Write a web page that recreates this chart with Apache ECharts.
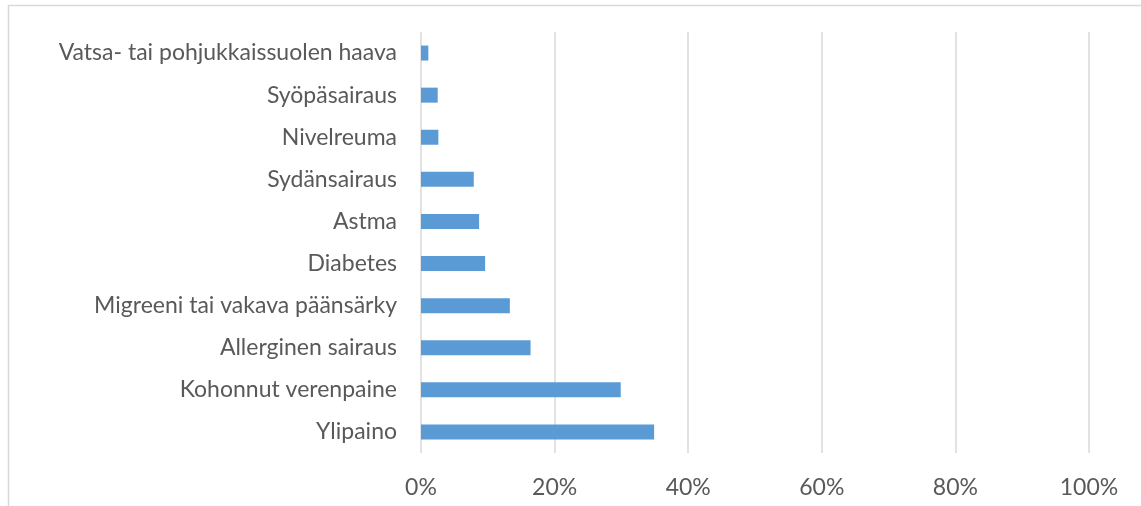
<!DOCTYPE html>
<html>
<head>
<meta charset="utf-8">
<script src="https://cdn.jsdelivr.net/npm/echarts@6/dist/echarts.min.js"></script>
<style>html,body{margin:0;padding:0;background:#fff;}#c{width:1141px;height:506px;}</style>
</head>
<body>
<div id="c"></div>
<script>
const categories = [
  "Vatsa- tai pohjukkaissuolen haava",
  "Syöpäsairaus",
  "Nivelreuma",
  "Sydänsairaus",
  "Astma",
  "Diabetes",
  "Migreeni tai vakava päänsärky",
  "Allerginen sairaus",
  "Kohonnut verenpaine",
  "Ylipaino"
];
const values = [0.011, 0.025, 0.026, 0.079, 0.087, 0.096, 0.133, 0.164, 0.299, 0.349];
const xTicks = [0, 0.2, 0.4, 0.6, 0.8, 1.0];

const chart = echarts.init(document.getElementById('c'), null, {renderer: 'canvas'});
chart.setOption({
  animation: false,
  backgroundColor: '#ffffff',
  graphic: [{
    type: 'rect',
    shape: {x: 8.5, y: 5.5, width: 1300, height: 700},
    style: {fill: 'none', stroke: '#d9d9d9', lineWidth: 1.5},
    silent: true
  }],
  grid: {left: 421, right: 52, top: 32, bottom: 53, containLabel: false},
  xAxis: {
    type: 'value',
    min: xTicks[0],
    max: xTicks[xTicks.length - 1],
    interval: 0.2,
    axisLine: {show: false},
    axisTick: {show: false},
    splitLine: {show: true, lineStyle: {color: '#d9d9d9', width: 1.5}},
    axisLabel: {
      margin: 23,
      color: '#595959',
      fontSize: 23,
      fontFamily: 'Lato',
      formatter: v => Math.round(v * 100) + '%'
    }
  },
  yAxis: {
    type: 'category',
    inverse: true,
    data: categories,
    axisLine: {show: false},
    axisTick: {show: false},
    axisLabel: {
      margin: 24,
      color: '#595959',
      fontSize: 23,
      fontFamily: 'Lato'
    }
  },
  series: [{
    type: 'bar',
    data: values,
    barWidth: 15,
    itemStyle: {color: '#5b9bd5'}
  }]
});
</script>
</body>
</html>
